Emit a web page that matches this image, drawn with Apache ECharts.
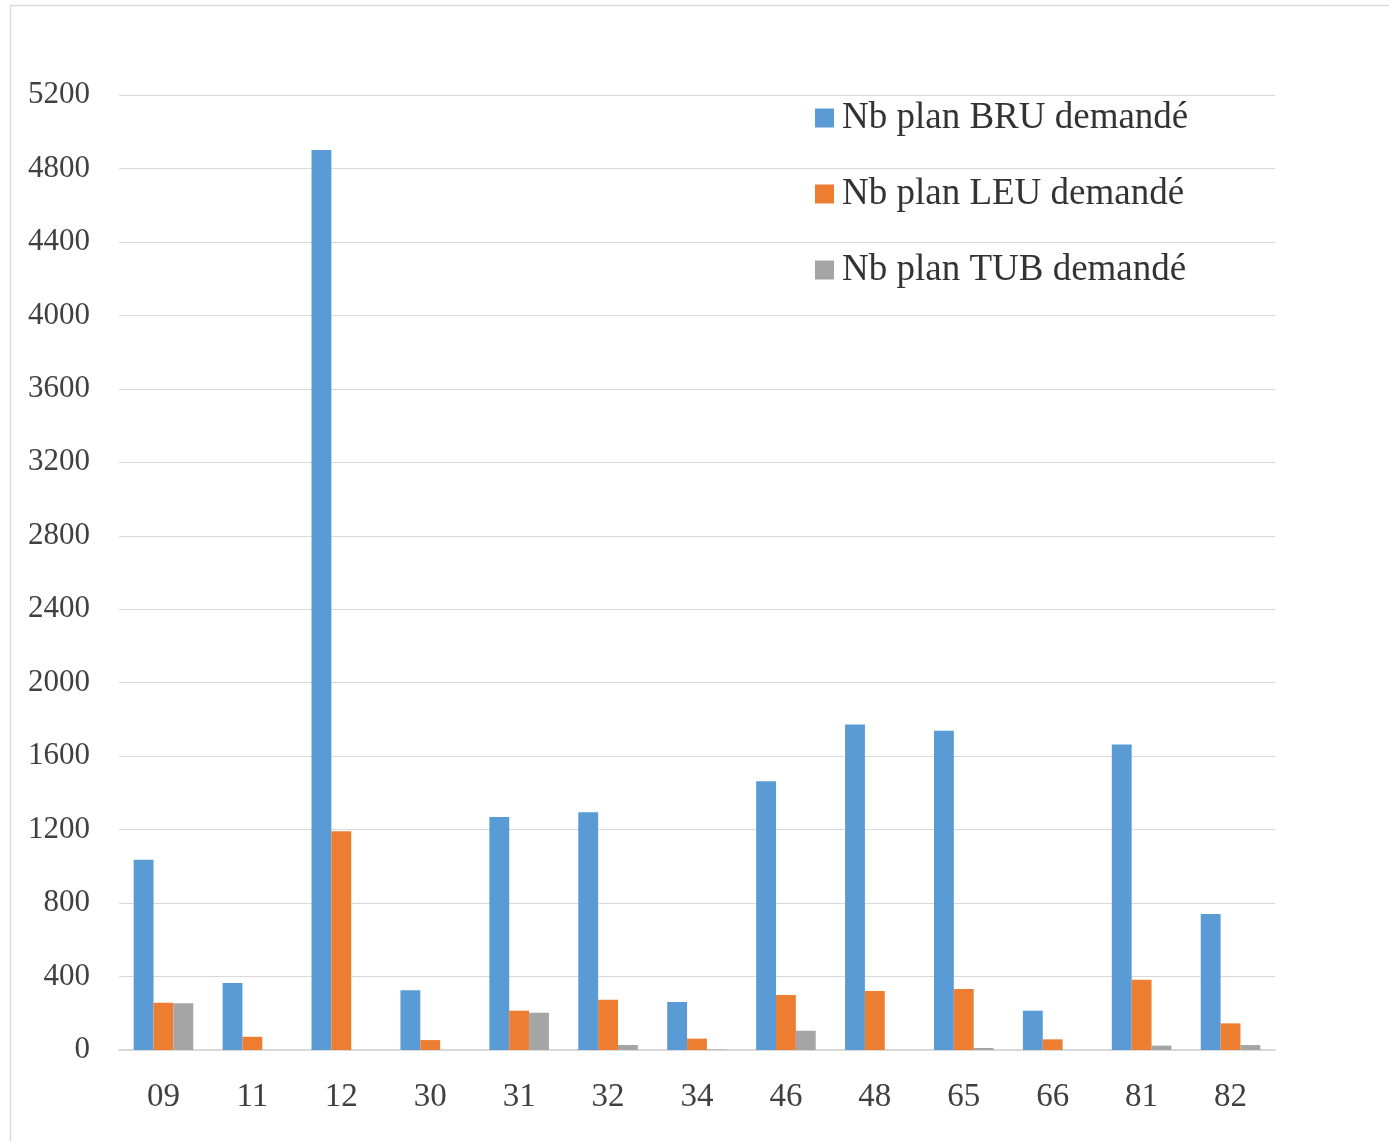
<!DOCTYPE html>
<html>
<head>
<meta charset="utf-8">
<style>
html,body{margin:0;padding:0;background:#fff;}
#chart{width:1389px;height:1141px;}
</style>
<script src="https://cdn.jsdelivr.net/npm/echarts@6/dist/echarts.min.js"></script>
</head>
<body>
<div id="chart"></div>
<script>
const categories = ['09','11','12','30','31','32','34','46','48','65','66','81','82'];
const seriesNames = ['Nb plan BRU demandé','Nb plan LEU demandé','Nb plan TUB demandé'];
const bru = [1036, 365, 4900, 325, 1269, 1294, 261, 1464, 1772, 1738, 214, 1664, 740];
const leu = [257, 72, 1191, 54, 214, 274, 62, 299, 321, 332, 58, 383, 145];
const tub = [254, 0, 0, 0, 203, 27, 3, 105, 0, 11, 0, 24, 27];
const yMin = 0, yMax = 5200, yStep = 400;

const chart = echarts.init(document.getElementById('chart'));
const serif = '"Liberation Serif", "DejaVu Serif", serif';
const colors = ['#5B9BD5', '#ED7D31', '#A5A5A5'];
const mk = (name, data, i) => ({
  name: name, type: 'bar', data: data,
  barGap: '0%', barCategoryGap: '33%',
  itemStyle: {color: colors[i], borderWidth: 0},
  emphasis: {disabled: true}
});
chart.setOption({
  animation: false,
  color: colors,
  graphic: [{
    type: 'polyline',
    shape: {points: [[10.5, 1141], [10.5, 5.5], [1389, 5.5]]},
    style: {stroke: '#d9d9d9', lineWidth: 1.5, fill: null},
    silent: true
  }],
  grid: {left: 119, right: 114, top: 95, bottom: 91, containLabel: false},
  legend: {
    orient: 'vertical', left: 810, top: 94,
    itemWidth: 19, itemHeight: 19, itemGap: 38,
    icon: 'rect',
    textStyle: {fontFamily: serif, fontSize: 37, color: '#333', lineHeight: 38, padding: [0,0,0,3]},
    data: seriesNames
  },
  xAxis: {
    type: 'category', data: categories,
    axisLine: {lineStyle: {color: '#d9d9d9', width: 2}},
    axisTick: {show: false},
    axisLabel: {fontFamily: serif, fontSize: 33, color: '#404040', margin: 31}
  },
  yAxis: {
    type: 'value', min: yMin, max: yMax, interval: yStep,
    axisLine: {show: false}, axisTick: {show: false},
    splitLine: {lineStyle: {color: '#d9d9d9', width: 1}},
    axisLabel: {fontFamily: serif, fontSize: 31, color: '#404040', margin: 29, formatter: v => String(v)}
  },
  series: [mk(seriesNames[0], bru, 0), mk(seriesNames[1], leu, 1), mk(seriesNames[2], tub, 2)]
});
</script>
</body>
</html>
